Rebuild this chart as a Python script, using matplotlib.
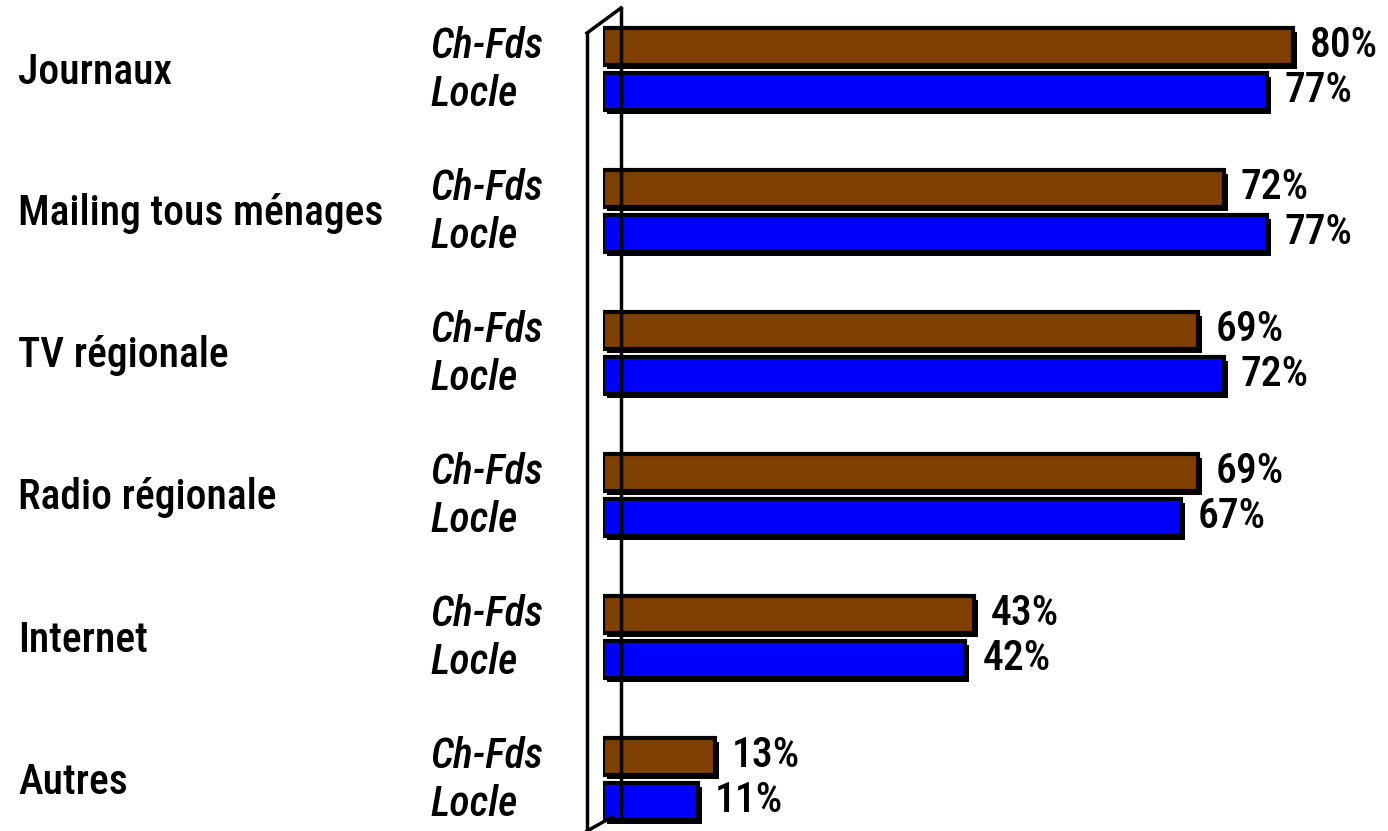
import matplotlib
matplotlib.use("Agg")
import matplotlib.pyplot as plt
from matplotlib import font_manager
from matplotlib.transforms import offset_copy
from matplotlib.lines import Line2D

categories = ["Journaux", "Mailing tous ménages", "TV régionale", "Radio régionale", "Internet", "Autres"]
series_names = ["Ch-Fds", "Locle"]
chfds = [80, 72, 69, 69, 43, 13]
locle = [77, 77, 72, 67, 42, 11]
colors = ["#7F3F00", "#0000FF"]

names = {f.name for f in font_manager.fontManager.ttflist}
fam = "Liberation Sans"
for cand in ["Liberation Sans Narrow", "Arial Narrow", "Roboto Condensed", "Archivo Narrow",
             "Barlow Semi Condensed"]:
    if cand in names:
        fam = cand
        break

W, H = 1388, 831
fig = plt.figure(figsize=(W / 100, H / 100), dpi=100)
x0 = 603
ax = fig.add_axes([x0 / W, 0, 1 - x0 / W, 1])
ax.set_xlim(0, (W - x0) / 8.625)
ax.set_ylim((H - 69) / 142, -69 / 142)
ax.axis("off")

FS = 30
WT = "medium"
off = 0.16
h = 0.26
for k, (vals, c) in enumerate(zip([chfds, locle], colors)):
    ys = [i + (-off if k == 0 else off) for i in range(len(categories))]
    sh = offset_copy(ax.transData, fig=fig, x=4, y=-4, units="dots")
    ax.barh(ys, vals, height=h, color="black", transform=sh, zorder=2)
    ax.barh(ys, vals, height=h, color=c, edgecolor="black", linewidth=3, zorder=3)
    for y, v in zip(ys, vals):
        ax.annotate(f"{v}%", (v, y), xytext=(17, 1), textcoords="offset pixels",
                    va="center", ha="left", fontsize=FS, fontweight=WT,
                    family=fam, zorder=4)
    for y in ys:
        ax.annotate(series_names[k], (0, y), xycoords=("figure pixels", "data"),
                    xytext=(430, 0 if k == 0 else -3), textcoords="offset pixels",
                    va="center", ha="left", fontsize=FS, fontweight=WT, style="italic",
                    family=fam, annotation_clip=False)

for i, cat in enumerate(categories):
    ax.annotate(cat, (0, i), xycoords=("figure pixels", "data"), xytext=(18, -3),
                textcoords="offset pixels", va="center", ha="left", fontsize=FS,
                fontweight=WT, family=fam, annotation_clip=False)

# 3D wall outline
lw = 2.5
fig.add_artist(Line2D([587, 587], [0, H - 33], transform=None, color="black", lw=lw, zorder=1))
fig.add_artist(Line2D([587, 621], [H - 33, H - 8], transform=None, color="black", lw=lw, zorder=1))
fig.add_artist(Line2D([621, 621], [H - 8, 14], transform=None, color="black", lw=lw, zorder=1))
fig.add_artist(Line2D([587, 612], [0, 14], transform=None, color="black", lw=lw, zorder=1))
fig.savefig("out.png", dpi=100)
